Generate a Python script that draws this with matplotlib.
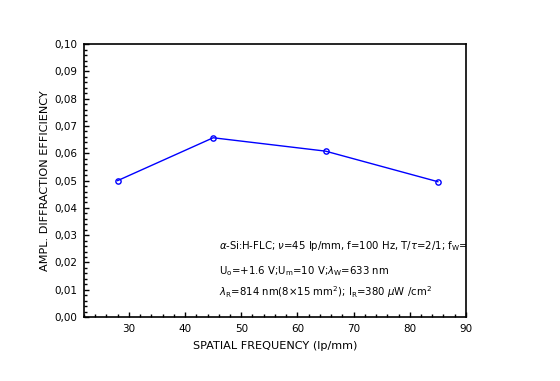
import matplotlib
matplotlib.use("Agg")
import matplotlib.pyplot as plt
from matplotlib.ticker import MultipleLocator, FuncFormatter

freq = [28, 45, 65, 85]
eff = [0.050, 0.0657, 0.0608, 0.0496]
x_label = "SPATIAL FREQUENCY (lp/mm)"
y_label = "AMPL. DIFFRACTION EFFICIENCY"
notes = [
    r"$\alpha$-Si:H-FLC; $\nu$=45 lp/mm, f=100 Hz, T/$\tau$=2/1; f$_\mathrm{W}$=0",
    r"U$_\mathrm{o}$=+1.6 V;U$_\mathrm{m}$=10 V;$\lambda_\mathrm{W}$=633 nm",
    r"$\lambda_\mathrm{R}$=814 nm(8$\times$15 mm$^2$); I$_\mathrm{R}$=380 $\mu$W /cm$^2$",
]

plt.rcParams['font.family'] = ['DejaVu Sans']
plt.rcParams['mathtext.fontset'] = 'dejavusans'

fig = plt.figure(figsize=(5.6, 3.81), dpi=100)
ax = fig.add_axes([0.150, 0.168, 0.682, 0.716])

ax.plot(freq, eff, color='#0000ff', lw=1, marker='o', ms=3.8,
        mfc='none', mec='#0000ff', mew=1)

ax.set_xlim(22, 90)
ax.set_ylim(0, 0.10)
ax.xaxis.set_major_locator(MultipleLocator(10))
ax.xaxis.set_minor_locator(MultipleLocator(2))
ax.yaxis.set_major_locator(MultipleLocator(0.01))
ax.yaxis.set_minor_locator(MultipleLocator(0.002))
ax.yaxis.set_major_formatter(FuncFormatter(lambda v, p: f"{v:.2f}".replace('.', ',')))
ax.xaxis.set_major_formatter(FuncFormatter(lambda v, p: f"{v:.0f}"))

ax.tick_params(which='both', direction='in', top=False, right=False,
               labelsize=7.5, width=1, color='black', pad=5)
ax.tick_params(which='major', length=3.6)
ax.tick_params(which='minor', length=2.2)
for s in ax.spines.values():
    s.set_linewidth(1.2)

ax.set_xlabel(x_label, fontsize=8.1, labelpad=5)
ax.set_ylabel(y_label, fontsize=8.1, labelpad=3)

ys = [0.0260, 0.0170, 0.0090]
for t, yv in zip(notes, ys):
    ax.text(46.1, yv, t, fontsize=7.3, va='center', ha='left', clip_on=True)

fig.savefig("out.png", dpi=100)
